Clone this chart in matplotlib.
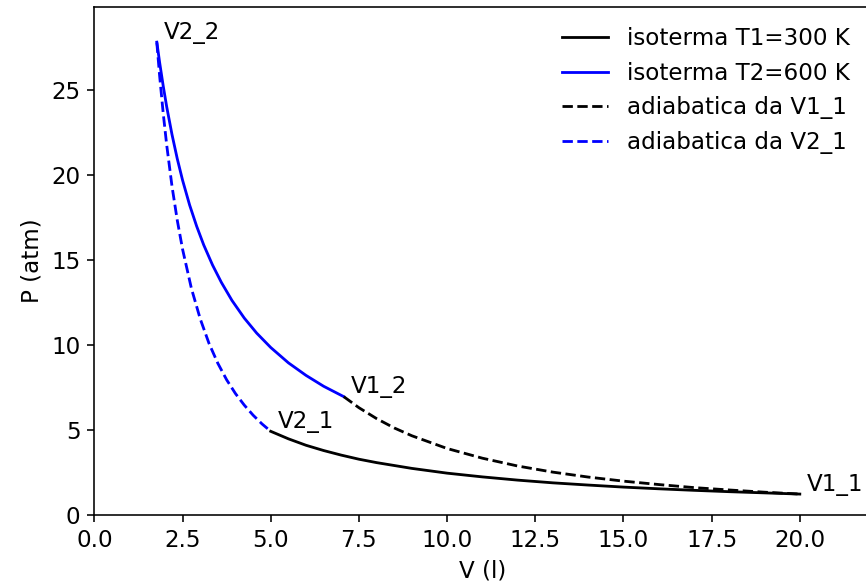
import matplotlib
matplotlib.use('Agg')
import matplotlib.pyplot as plt

plt.rcParams['font.size'] = 11.5
plt.rcParams['lines.linewidth'] = 1.4

# isoterma T1 = 300 K (V2_1 -> V1_1)
v_t1 = [5.0, 5.5, 6.0, 6.5, 7.0, 7.5, 8.0, 9.0, 10.0, 11.0, 12.0, 13.0, 14.0,
        15.0, 16.0, 17.0, 18.0, 19.0, 20.0]
p_t1 = [4.92, 4.48, 4.10, 3.79, 3.52, 3.28, 3.08, 2.74, 2.46, 2.24, 2.05, 1.89,
        1.76, 1.64, 1.54, 1.45, 1.37, 1.30, 1.23]

# isoterma T2 = 600 K (V2_2 -> V1_2)
v_t2 = [1.77, 1.85, 1.95, 2.05, 2.2, 2.35, 2.5, 2.7, 2.9, 3.1, 3.35, 3.6, 3.9,
        4.25, 4.6, 5.0, 5.5, 6.0, 6.5, 7.07]
p_t2 = [27.81, 26.61, 25.25, 24.01, 22.38, 20.95, 19.69, 18.23, 16.98, 15.88,
        14.70, 13.68, 12.62, 11.58, 10.70, 9.85, 8.95, 8.21, 7.57, 6.96]

# adiabatica da V1_1 (V1_2 -> V1_1)
v_ad1 = [7.07, 7.5, 8.0, 8.5, 9.0, 10.0, 11.0, 12.0, 13.0, 14.0, 15.0, 16.0,
         17.0, 18.0, 19.0, 20.0]
p_ad1 = [6.96, 6.31, 5.67, 5.12, 4.66, 3.91, 3.34, 2.88, 2.52, 2.23, 1.99, 1.79,
         1.61, 1.47, 1.34, 1.23]

# adiabatica da V2_1 (V2_2 -> V2_1)
v_ad2 = [1.77, 1.85, 1.95, 2.05, 2.2, 2.35, 2.5, 2.75, 3.0, 3.25, 3.5, 3.75,
         4.0, 4.25, 4.5, 4.75, 5.0]
p_ad2 = [27.79, 25.82, 23.65, 21.76, 19.34, 17.33, 15.63, 13.33, 11.54, 10.09,
         8.92, 7.95, 7.14, 6.46, 5.87, 5.36, 4.92]

# punti notevoli
nomi = ['V1_1', 'V2_1', 'V1_2', 'V2_2']
v_punti = [20.0, 5.0, 7.07, 1.77]
p_punti = [1.23, 4.92, 6.96, 27.81]

fig = plt.figure(figsize=(866 / 144, 587 / 144), dpi=144)
ax = fig.add_axes([0.109, 0.1227, 0.896, 0.866])

ax.plot(v_t1, p_t1, 'k', label='isoterma T1=300 K')
ax.plot(v_t2, p_t2, 'b', label='isoterma T2=600 K')
ax.plot(v_ad1, p_ad1, 'k--', label='adiabatica da V1_1')
ax.plot(v_ad2, p_ad2, 'b--', label='adiabatica da V2_1')

for nome, v, p in zip(nomi, v_punti, p_punti):
    ax.text(v + 0.2, p + 0.2, nome)

ax.set_xlim(0, 22)
ax.set_ylim(0, 29.9)
ax.set_xticks([0, 2.5, 5, 7.5, 10, 12.5, 15, 17.5, 20])
ax.set_xlabel('V (l)')
ax.set_ylabel('P (atm)')
ax.legend(loc='upper right', frameon=False)

fig.savefig('out.png', dpi=144)
